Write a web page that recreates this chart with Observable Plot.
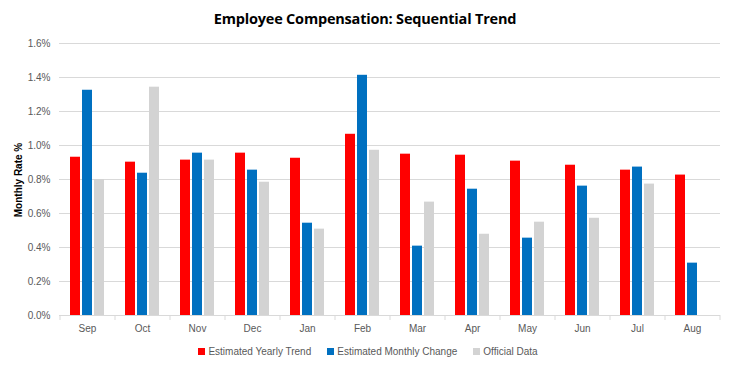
<!DOCTYPE html>
<html>
<head>
<meta charset="utf-8">
<script src="https://cdn.jsdelivr.net/npm/d3@7"></script>
<script src="https://cdn.jsdelivr.net/npm/@observablehq/plot@0.6"></script>
<style>
  body { margin: 0; background: #fff; font-family: "Liberation Sans", Arial, sans-serif; }
  #wrap { width: 730px; height: 368px; position: relative; overflow: hidden; }
  #title { height: 32px; line-height: 38px; text-align: center; font-weight: bold; font-size: 14.5px; color: #000; font-family: "Open Sans", "Liberation Sans", sans-serif; letter-spacing: -0.2px; }
  #legend { display: flex; justify-content: center; font-size: 10px; color: #595959; margin-top: 2px; padding-left: 6px; }
  .item { display: flex; align-items: center; margin: 0 8px; }
  .sw { width: 7px; height: 7px; margin-right: 3px; }
  #ytitle { position: absolute; left: 18px; top: 180px; transform: translate(-50%, -50%) rotate(-90deg); transform-origin: center; font-size: 10px; font-weight: bold; white-space: nowrap; color: #000; }
</style>
</head>
<body>
<div id="wrap">
  <div id="title">Employee Compensation: Sequential Trend</div>
  <div id="chart"></div>
  <div id="legend"></div>
  <div id="ytitle">Monthly Rate %</div>
</div>
<script>
const months = ["Sep","Oct","Nov","Dec","Jan","Feb","Mar","Apr","May","Jun","Jul","Aug"];
const seriesNames = ["Estimated Yearly Trend","Estimated Monthly Change","Official Data"];
const seriesColors = ["#FF0000","#0070C0","#D3D3D3"];
const yearlyTrend   = [0.931,0.902,0.914,0.955,0.925,1.066,0.949,0.943,0.908,0.884,0.855,0.826];
const monthlyChange = [1.325,0.837,0.955,0.855,0.543,1.413,0.408,0.743,0.455,0.761,0.873,0.308];
const officialData  = [0.800,1.343,0.914,0.784,0.508,0.972,0.667,0.478,0.549,0.572,0.773,null];
const yTicks = [0,0.2,0.4,0.6,0.8,1.0,1.2,1.4,1.6];

const seriesValues = [yearlyTrend, monthlyChange, officialData];
const offsets = [-12, 0, 12];

const rows = s => months.map((m, i) => ({month: m, value: seriesValues[s][i]})).filter(d => d.value != null);

const chart = Plot.plot({
  width: 730,
  height: 312,
  marginLeft: 59,
  marginRight: 10,
  marginTop: 11,
  marginBottom: 29,
  style: {fontFamily: "'Liberation Sans', Arial, sans-serif", fontSize: "10px", color: "#595959", background: "#fff"},
  x: {domain: months, paddingInner: 0.818, paddingOuter: 0.409, label: null, tickSize: 0, tickPadding: 9},
  y: {domain: [0, 1.6], ticks: yTicks, tickFormat: d => d.toFixed(1) + "%", label: null, tickSize: 0, tickPadding: 9},
  marks: [
    Plot.ruleY(yTicks.slice(1), {stroke: "#D9D9D9", strokeWidth: 1}),
    ...seriesNames.map((name, s) => Plot.barY(rows(s), {x: "month", y: "value", fill: seriesColors[s], dx: offsets[s]})),
    Plot.ruleY([0], {stroke: "#D9D9D9", strokeWidth: 1}),
    Plot.ruleX(months, {x: d => d, y1: 0, y2: 0, dx: 27.5, stroke: "#D9D9D9", insetBottom: -5}),
    Plot.ruleX([months[0]], {x: d => d, y1: 0, y2: 0, dx: -27.5, stroke: "#D9D9D9", insetBottom: -5})
  ]
});
document.getElementById("chart").appendChild(chart);

const legend = document.getElementById("legend");
seriesNames.forEach((name, s) => {
  const it = document.createElement("div");
  it.className = "item";
  it.innerHTML = `<div class="sw" style="background:${seriesColors[s]}"></div><span>${name}</span>`;
  legend.appendChild(it);
});
</script>
</body>
</html>
